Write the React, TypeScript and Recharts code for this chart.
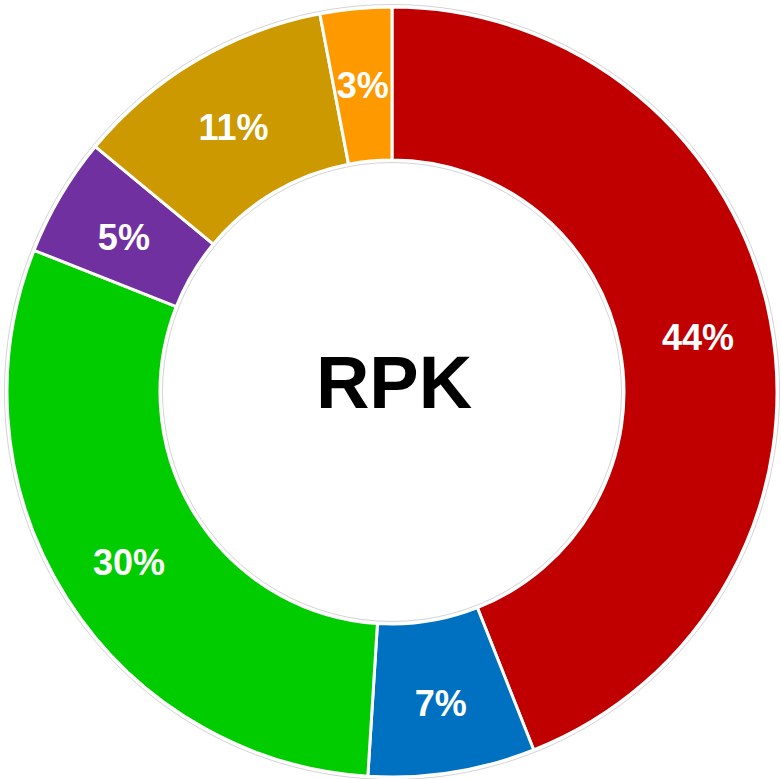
import React from 'react';
import { PieChart, Pie, Cell, Label } from 'recharts';

const segments = ['S1', 'S2', 'S3', 'S4', 'S5', 'S6'];
const shares = [44, 7, 30, 5, 11, 3];
const COLORS = ['#c00000', '#0070c0', '#00cc00', '#7030a0', '#cc9900', '#ff9900'];
const centerTitle = 'RPK';

const data = segments.map((name, i) => ({ name, value: shares[i] }));
const ring = [{ name: 'ring', value: 1 }];

const CX = 392;
const CY = 392;
const RADIAN = Math.PI / 180;

const renderLabel = ({ cx, cy, midAngle, innerRadius, outerRadius, value }: any) => {
  const r = (innerRadius + outerRadius) / 2 + 3;
  const x = cx + r * Math.cos(-midAngle * RADIAN);
  const y = cy + r * Math.sin(-midAngle * RADIAN) + 4;
  return (
    <text
      x={x}
      y={y}
      fill="#ffffff"
      textAnchor="middle"
      dominantBaseline="central"
      fontFamily="'Liberation Sans', Arial, sans-serif"
      fontWeight="bold"
      fontSize={36}
    >
      {`${value}%`}
    </text>
  );
};

export default function App() {
  return (
    <div style={{ position: 'absolute', left: 0, top: 0, background: '#fff' }}>
      <PieChart width={781} height={779} margin={{ top: 0, right: 0, bottom: 0, left: 0 }}>
        <Pie
          data={ring}
          dataKey="value"
          cx={CX}
          cy={CY}
          innerRadius={229.5}
          outerRadius={387.5}
          startAngle={90}
          endAngle={-270}
          fill="none"
          stroke="#d4d4d4"
          strokeWidth={1}
          isAnimationActive={false}
        />
        <Pie
          data={data}
          dataKey="value"
          cx={CX}
          cy={CY}
          innerRadius={232}
          outerRadius={385}
          startAngle={90}
          endAngle={-270}
          stroke="#ffffff"
          strokeWidth={3}
          labelLine={false}
          label={renderLabel}
          isAnimationActive={false}
        >
          {data.map((entry, index) => (
            <Cell key={`cell-${index}`} fill={COLORS[index % COLORS.length]} />
          ))}
          <Label
            position="center"
            content={() => (
              <text
                x={CX + 2}
                y={CY - 10}
                textAnchor="middle"
                dominantBaseline="central"
                fontFamily="'Liberation Sans', Arial, sans-serif"
                fontWeight="bold"
                fontSize={74}
                fill="#000000"
              >
                {centerTitle}
              </text>
            )}
          />
        </Pie>
      </PieChart>
    </div>
  );
}
